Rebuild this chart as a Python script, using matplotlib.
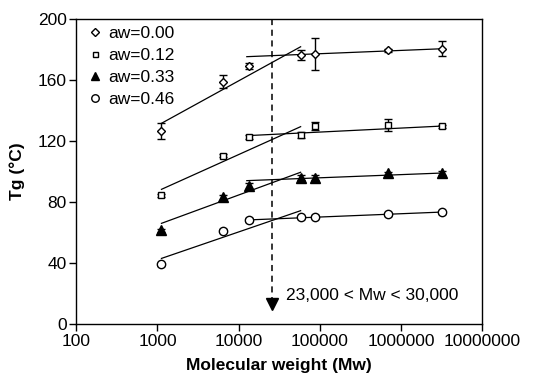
import matplotlib
matplotlib.use("Agg")
import matplotlib.pyplot as plt
import numpy as np

plt.rcParams['font.family'] = ['Liberation Sans', 'DejaVu Sans']

# molecular weight of each sample (same for every water activity)
mw = [1120, 6400, 13400, 58000, 88000, 700000, 3200000]

labels = ["aw=0.00", "aw=0.12", "aw=0.33", "aw=0.46"]
tg = [
    [126.6, 159.0, 169.4, 176.4, 177.0, 179.5, 180.5],
    [84.4, 110.4, 122.6, 124.1, 129.8, 130.5, 129.8],
    [61.6, 83.0, 90.5, 96.0, 96.0, 98.8, 99.0],
    [39.1, 61.0, 68.2, 70.0, 70.4, 71.9, 73.4],
]
tg_err = [
    [5.0, 4.0, 2.0, 3.6, 10.4, 1.0, 5.0],
    [1.0, 1.0, 1.5, 2.0, 2.4, 3.8, 1.0],
    [1.0, 1.5, 2.0, 1.5, 1.5, 1.0, 1.0],
    [1.0, 1.0, 1.0, 1.0, 1.0, 1.0, 1.0],
]

# fitted lines: rising part (low Mw) and plateau part (high Mw)
rise_mw = [1120, 58000]
rise_tg = [[131.6, 181.8], [88.3, 129.4], [66.0, 99.5], [43.0, 74.3]]
plat_mw = [12600, 3200000]
plat_tg = [[175.3, 180.5], [123.5, 129.8], [94.0, 99.0], [68.2, 73.4]]

mw_cross = 25500

markers = [
    dict(marker="D", ms=4.5, mfc="white", mec="black", mew=1.0),
    dict(marker="s", ms=4, mfc="white", mec="black", mew=1.0),
    dict(marker="^", ms=6.5, mfc="black", mec="black", mew=1.0),
    dict(marker="o", ms=6, mfc="white", mec="black", mew=1.0),
]

fs = 12.5

fig = plt.figure(figsize=(5.43, 3.78), dpi=100)
ax = fig.add_axes([0.1405, 0.1429, 0.7475, 0.8068])

for i in range(len(labels)):
    ax.plot(rise_mw, rise_tg[i], color="black", lw=0.9, zorder=2)
    ax.plot(plat_mw, plat_tg[i], color="black", lw=0.9, zorder=2)
    ax.errorbar(mw, tg[i], yerr=tg_err[i], fmt="none", ecolor="black",
                elinewidth=1.0, capsize=3, capthick=1.0, zorder=3)
    ax.plot(mw, tg[i], ls="none", label=labels[i], zorder=4, **markers[i])

# transition region marker
ax.plot([mw_cross, mw_cross], [200, 16], color="black", lw=1.1,
        ls=(0, (4, 3)), zorder=1)
ax.plot(mw_cross, 13, marker="v", ms=9, color="black", zorder=5)
ax.text(38000, 19, "23,000 < Mw < 30,000", fontsize=fs, va="center",
        ha="left")

ax.set_xscale("log")
ax.set_xlim(100, 1e7)
ax.set_ylim(0, 200)
ax.set_xticks([1e2, 1e3, 1e4, 1e5, 1e6, 1e7])
ax.set_xticklabels(["100", "1000", "10000", "100000", "1000000", "10000000"])
ax.minorticks_off()
ax.set_yticks([0, 40, 80, 120, 160, 200])
ax.tick_params(direction="out", length=5, width=1, labelsize=fs, pad=2)

for s in ax.spines.values():
    s.set_linewidth(1.0)

ax.set_xlabel("Molecular weight (Mw)", fontsize=fs, fontweight="bold",
              labelpad=7)
ax.set_ylabel("Tg (°C)", fontsize=fs, fontweight="bold", labelpad=9)

ax.legend(loc="upper left", bbox_to_anchor=(0.033, 0.978), frameon=False,
          fontsize=fs, handletextpad=0.45, labelspacing=0.4,
          borderaxespad=0, borderpad=0, handlelength=0.6, markerscale=0.9)

fig.savefig("out.png", dpi=100)
